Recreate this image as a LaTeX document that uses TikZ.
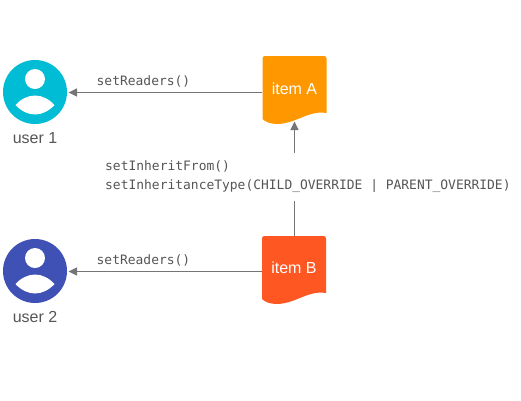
\documentclass[tikz,border=0pt]{standalone}
\usepackage{fontspec}
\setmainfont{Liberation Sans}
\setmonofont{DejaVu Sans Mono}
\usetikzlibrary{arrows.meta}
\definecolor{lineg}{HTML}{757575}
\definecolor{textg}{HTML}{555555}
\definecolor{cyanu}{HTML}{00BCD4}
\definecolor{indigou}{HTML}{3F51B5}
\definecolor{orangei}{HTML}{FF9800}
\definecolor{redi}{HTML}{FF5722}
\tikzset{
  px/.style={x=1pt,y=-1pt},
  conn/.style={draw=lineg,line width=1pt,-{Triangle[length=8.5pt,width=8pt]}},
  connplain/.style={draw=lineg,line width=1pt},
  monolbl/.style={font=\ttfamily\fontsize{12.95}{16}\selectfont,text=textg,inner sep=0pt,anchor=base west},
  userlbl/.style={font=\fontsize{16}{18}\selectfont,text=textg,inner sep=0pt,anchor=base},
  itemlbl/.style={font=\fontsize{16}{18}\selectfont,text=white,inner sep=0pt},
  usercirc/.style={circle,minimum size=64pt,inner sep=0pt},
  anchorbox/.style={minimum width=64pt,minimum height=65pt,inner sep=0pt},
}
\newcommand{\personglyph}[3]{%
  \fill[#3] (#1,#2) circle[radius=32];
  \fill[white] (#1,#2-13) circle[radius=10];
  \fill[white] (#1-19.5,#2+13) .. controls (#1-14,#2+7) and (#1-7,#2+3.5) .. (#1,#2+3.5)
     .. controls (#1+7,#2+3.5) and (#1+14,#2+7) .. (#1+19.5,#2+13)
     .. controls (#1+14,#2+19) and (#1+7,#2+22.5) .. (#1,#2+22.5)
     .. controls (#1-7,#2+22.5) and (#1-14,#2+19) .. (#1-19.5,#2+13) -- cycle;
}
\newcommand{\docglyph}[3]{%
  \fill[#3] (#1-32,#2+2.5) .. controls (#1-32,#2+1) and (#1-31,#2) .. (#1-29.5,#2)
    -- (#1+29.5,#2) .. controls (#1+31,#2) and (#1+32,#2+1) .. (#1+32,#2+2.5)
    -- (#1+32,#2+57)
    .. controls (#1+14,#2+54) and (#1+2,#2+67.5) .. (#1-17,#2+68)
    .. controls (#1-24,#2+68) and (#1-29,#2+66) .. (#1-32,#2+63) -- cycle;
}
\begin{document}
\begin{tikzpicture}[px]
\useasboundingbox (0,0) rectangle (521,400);
\personglyph{35}{92}{cyanu}
\personglyph{35}{271}{indigou}
\docglyph{294.5}{56}{orangei}
\docglyph{294}{236}{redi}
\node[usercirc] (u1) at (35,92) {};
\node[usercirc] (u2) at (35,271) {};
\node[anchorbox] (a) at (294.5,88.5) {};
\node[anchorbox] (b) at (294,268.5) {};
\node[itemlbl] (atxt) at (294.5,88.5) {item A};
\node[itemlbl] (btxt) at (294,267.5) {item B};
\node[userlbl] (u1t) at (35,143) {user 1};
\node[userlbl] (u2t) at (35,322) {user 2};
\node[monolbl] (r1) at (96.5,85) {setReaders()};
\node[monolbl] (r2) at (96.5,264) {setReaders()};
\node[monolbl] (m1) at (105,170) {setInheritFrom()};
\node[monolbl] (m2) at (105,189) {setInheritanceType(CHILD\_OVERRIDE | PARENT\_OVERRIDE)};
\coordinate (gapl) at (294,201);
\coordinate (gaph) at (294.5,153);
\coordinate (e1) at (68.5,92.5);
\coordinate (e2) at (68.5,271.5);
\coordinate (atip) at (294.5,121.5);
\draw[conn] (a.west |- e1) -- (e1);
\draw[conn] (b.west |- e2) -- (e2);
\draw[connplain] (b.north -| gapl) -- (gapl);
\draw[conn] (gaph) -- (atip);
\end{tikzpicture}
\end{document}
